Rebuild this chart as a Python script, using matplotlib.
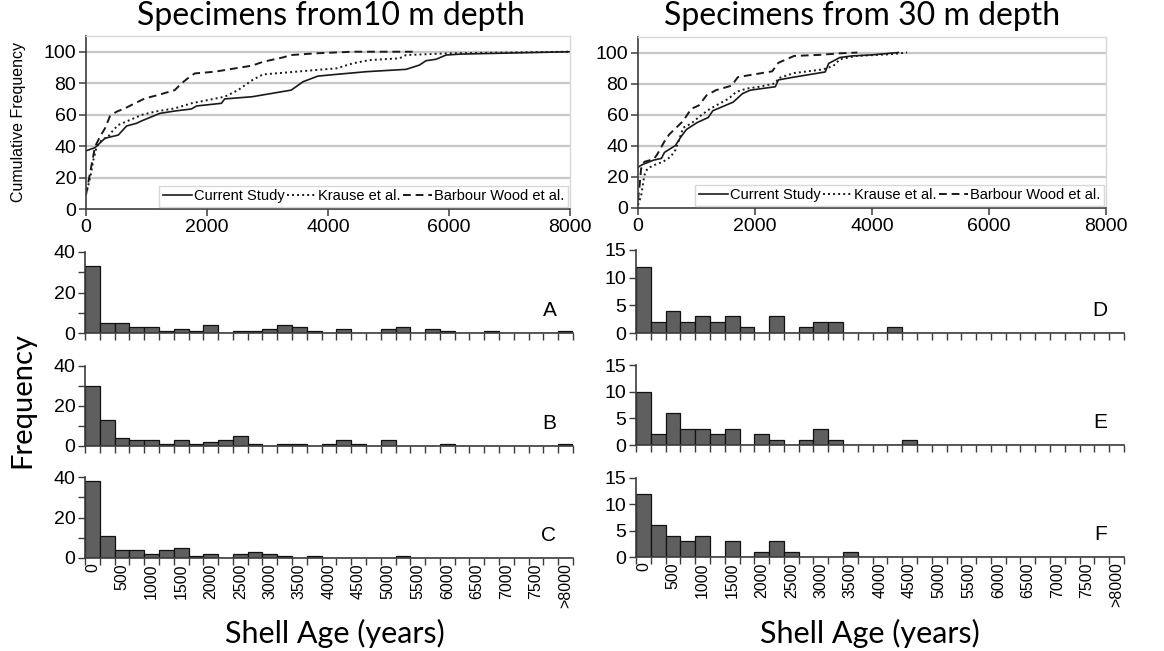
import matplotlib
matplotlib.use("Agg")
import matplotlib.pyplot as plt
from matplotlib.lines import Line2D

# ---------------------------------------------------------------------------
# Data
# ---------------------------------------------------------------------------
# 250-year age classes; the last class holds everything older than 8000 years
age_classes = [str(a) for a in range(0, 8000, 250)] + [">8000"]
axis_labels = [str(a) if a % 500 == 0 else "" for a in range(0, 8000, 250)] + [">8000"]

# shell counts per age class, 10 m depth
freq_A = [33, 5, 5, 3, 3, 1, 2, 1, 4, 0, 1, 1, 2, 4, 3, 1, 0, 2, 0, 0, 2, 3, 0, 2, 1, 0, 0, 1, 0, 0, 0, 0, 1]
freq_B = [30, 13, 4, 3, 3, 1, 3, 1, 2, 3, 5, 1, 0, 1, 1, 0, 1, 3, 1, 0, 3, 0, 0, 0, 1, 0, 0, 0, 0, 0, 0, 0, 1]
freq_C = [38, 11, 4, 4, 2, 4, 5, 1, 2, 0, 2, 3, 2, 1, 0, 1, 0, 0, 0, 0, 0, 1, 0, 0, 0, 0, 0, 0, 0, 0, 0, 0, 0]
# shell counts per age class, 30 m depth
freq_D = [12, 2, 4, 2, 3, 2, 3, 1, 0, 3, 0, 1, 2, 2, 0, 0, 0, 1, 0, 0, 0, 0, 0, 0, 0, 0, 0, 0, 0, 0, 0, 0, 0]
freq_E = [10, 2, 6, 3, 3, 2, 3, 0, 2, 1, 0, 1, 3, 1, 0, 0, 0, 0, 1, 0, 0, 0, 0, 0, 0, 0, 0, 0, 0, 0, 0, 0, 0]
freq_F = [12, 6, 4, 3, 4, 0, 3, 0, 1, 3, 1, 0, 0, 0, 1, 0, 0, 0, 0, 0, 0, 0, 0, 0, 0, 0, 0, 0, 0, 0, 0, 0, 0]

# cumulative frequency (%) against shell age (years), 10 m depth
cur10_age = [0, 149, 314, 533, 671, 836, 918, 1221, 1468, 1743, 1826, 2238, 2293, 2750, 3393, 3586,
             3833, 4136, 4631, 5291, 5511, 5621, 5786, 5951, 6200, 8000]
cur10_pct = [37, 39, 45, 47, 52.8, 54.5, 56, 60.8, 62.3, 63.6, 65.5, 67.2, 70, 71.4, 75.6, 80.9,
             84.5, 85.6, 87.3, 88.8, 91.5, 94.3, 95.2, 97.9, 98.5, 100]
kra10_age = [20, 83, 121, 176, 259, 368, 451, 533, 726, 918, 1138, 1468, 1743, 2018, 2293, 2513,
             2750, 2926, 3256, 3806, 4136, 4411, 4686, 5181, 5291, 6006, 8000]
kra10_pct = [12, 22.7, 31, 39.6, 43.9, 46, 50.2, 53.4, 56.6, 59.8, 61.9, 64, 67.2, 69.3, 71.4, 75.6,
             82, 85.6, 86.6, 88.4, 89.4, 92.6, 94.7, 95.8, 97.9, 99, 100]
bar10_age = [0, 66, 149, 231, 314, 396, 506, 643, 808, 973, 1193, 1468, 1578, 1716, 1798, 2128,
             2750, 2926, 3256, 3393, 3806, 4411, 5400]
bar10_pct = [9, 22.7, 39.6, 46, 51.3, 59, 61.9, 64, 67.2, 70.3, 72.5, 75.6, 79.9, 84.1, 86.2, 87.3,
             91.2, 93.6, 96.4, 97.9, 99, 100, 100]

# cumulative frequency (%) against shell age (years), 30 m depth
cur30_age = [0, 10, 80, 267, 400, 453, 640, 720, 827, 1013, 1200, 1280, 1627, 1787, 1920, 2347,
             2400, 2667, 3200, 3260, 3450, 3650, 4000, 4450]
cur30_pct = [26, 26.5, 28, 30.8, 31.9, 35.8, 40.2, 45, 50.5, 55, 58.2, 62.6, 68.1, 73.6, 75.8, 78,
             82.4, 84.2, 87.5, 93, 96.8, 97.8, 98.5, 100]
kra30_age = [0, 53, 107, 160, 267, 427, 560, 640, 693, 773, 907, 1067, 1227, 1387, 1547, 1680,
             1867, 2080, 2347, 2400, 2667, 3168, 3339, 3453, 3738, 4308, 4600]
kra30_pct = [2, 7.7, 20.9, 25.3, 27.5, 29.7, 33, 37.4, 42.9, 51.6, 54.3, 59.3, 63.7, 67, 70.3, 74.7,
             76.9, 78, 80.2, 83.5, 86.8, 89.2, 91.4, 95.7, 97.8, 98.9, 100]
bar30_age = [0, 27, 53, 107, 267, 320, 373, 453, 533, 640, 773, 907, 1040, 1173, 1333, 1600,
             1707, 2293, 2400, 2667, 3100, 3450, 3750]
bar30_pct = [5, 14.3, 25.3, 29.7, 31.4, 34, 37.4, 42.9, 47.3, 51.2, 56, 63.7, 66, 72.5, 75.8, 78.7,
             84.2, 87.9, 93.4, 97.8, 98.5, 99.5, 100]

series_names = ["Current Study", "Krause et al.", "Barbour Wood et al."]

# ---------------------------------------------------------------------------
# Figure
# ---------------------------------------------------------------------------
W, H = 1164, 651
fig = plt.figure(figsize=(W / 100, H / 100), dpi=100)
fig.patch.set_facecolor("white")

TICK_FONT = "Liberation Sans"
TITLE_FONT = "Lato"
AXC = "#3c3c3c"
GRID = "#c8c8c8"


def px_axes(left, right, top, bottom):
    return fig.add_axes([left / W, 1 - bottom / H, (right - left) / W, (bottom - top) / H])


def style_cumulative(ax):
    ax.set_xlim(0, 8000)
    ax.set_ylim(0, 110)
    ax.set_xticks([0, 2000, 4000, 6000, 8000])
    ax.set_yticks([0, 20, 40, 60, 80, 100])
    for y in [20, 40, 60, 80, 100]:
        ax.axhline(y, color=GRID, lw=1.6, zorder=0)
    for s in ["left", "bottom"]:
        ax.spines[s].set_color(AXC)
        ax.spines[s].set_linewidth(1.2)
    for s in ["top", "right"]:
        ax.spines[s].set_color("#d8d8d8")
        ax.spines[s].set_linewidth(1.0)
    ax.tick_params(axis="both", direction="out", length=5, width=1.1, color=AXC,
                   labelsize=14, pad=2)
    ax.tick_params(top=False, right=False)
    for lab in ax.get_xticklabels() + ax.get_yticklabels():
        lab.set_fontfamily(TICK_FONT)


def draw_cumulative(ax, cur, kra, bar):
    ax.plot(cur[0], cur[1], color="#1a1a1a", lw=1.2, ls="-")
    ax.plot(kra[0], kra[1], color="#1a1a1a", lw=1.4, ls=(0, (1, 1.6)))
    ax.plot(bar[0], bar[1], color="#1a1a1a", lw=1.4, ls=(0, (4, 2.5)))
    handles = [Line2D([], [], color="#1a1a1a", lw=1.2, ls="-"),
               Line2D([], [], color="#1a1a1a", lw=1.4, ls=(0, (1, 1.6))),
               Line2D([], [], color="#1a1a1a", lw=1.4, ls=(0, (4, 2.5)))]
    leg = ax.legend(handles, series_names, loc="lower right", ncol=3, frameon=True,
                    fancybox=False, borderaxespad=0.15, borderpad=0.25, handlelength=2.0,
                    handletextpad=0.1, columnspacing=0.2,
                    prop={"family": TICK_FONT, "size": 10.5})
    leg.get_frame().set_edgecolor("#cfcfcf")
    leg.get_frame().set_linewidth(1.0)


ax_t1 = px_axes(86, 570, 36, 209)
style_cumulative(ax_t1)
draw_cumulative(ax_t1, (cur10_age, cur10_pct), (kra10_age, kra10_pct), (bar10_age, bar10_pct))
ax_t1.set_ylabel("Cumulative Frequency", fontfamily=TICK_FONT, fontsize=11.5, labelpad=13)
fig.text(331 / W, 1 - 16 / H, "Specimens from10 m depth", ha="center", va="center",
         fontfamily=TITLE_FONT, fontsize=23)

ax_t2 = px_axes(638, 1106, 37, 208)
style_cumulative(ax_t2)
draw_cumulative(ax_t2, (cur30_age, cur30_pct), (kra30_age, kra30_pct), (bar30_age, bar30_pct))
fig.text(862 / W, 1 - 16 / H, "Specimens from 30 m depth", ha="center", va="center",
         fontfamily=TITLE_FONT, fontsize=23)


def draw_hist(ax, counts, ymax, yticks, ylabels, letter, show_x):
    n = len(age_classes)
    idx = list(range(n))
    ax.bar(idx, counts, width=1.0, align="edge", color="#5f5f5f", edgecolor="#111111",
           linewidth=0.9, zorder=2)
    ax.set_xlim(0, n)
    ax.set_ylim(0, ymax)
    ax.set_yticks(yticks)
    ax.set_yticklabels(ylabels, fontfamily=TICK_FONT, fontsize=14)
    ax.set_xticks(range(n + 1))
    ax.set_xticklabels([])
    ax.set_xticks([i + 0.5 for i in idx], minor=True)
    if show_x:
        ax.set_xticklabels(axis_labels, minor=True, rotation=90, fontfamily=TICK_FONT,
                           fontsize=11.5, va="top")
    ax.tick_params(axis="x", which="minor", length=0, pad=4)
    ax.tick_params(axis="x", which="major", direction="out", length=5, width=1.0, color=AXC)
    ax.tick_params(axis="y", direction="out", length=5, width=1.0, color=AXC, pad=2)
    for s in ["top", "right"]:
        ax.spines[s].set_visible(False)
    for s in ["left", "bottom"]:
        ax.spines[s].set_color(AXC)
        ax.spines[s].set_linewidth(1.2)
    ax.text(0.966, 0.16, letter, transform=ax.transAxes, ha="right", va="bottom",
            fontfamily=TICK_FONT, fontsize=15)


t10 = [0, 10, 20, 30, 40]
l10 = ["0", "", "20", "", "40"]
t30 = [0, 5, 10, 15]
l30 = ["0", "5", "10", "15"]

draw_hist(px_axes(85, 573, 252, 333), freq_A, 40, t10, l10, "A", False)
draw_hist(px_axes(85, 573, 366, 446), freq_B, 40, t10, l10, "B", False)
draw_hist(px_axes(85, 573, 477, 558), freq_C, 40, t10, l10, "C", True)
draw_hist(px_axes(636, 1124, 250, 333), freq_D, 15, t30, l30, "D", False)
draw_hist(px_axes(636, 1124, 365, 445), freq_E, 15, t30, l30, "E", False)
draw_hist(px_axes(636, 1124, 478, 557), freq_F, 15, t30, l30, "F", True)

fig.text(335 / W, 1 - 633 / H, "Shell Age (years)", ha="center", va="center",
         fontfamily=TITLE_FONT, fontsize=22)
fig.text(870 / W, 1 - 633 / H, "Shell Age (years)", ha="center", va="center",
         fontfamily=TITLE_FONT, fontsize=22)
fig.text(22 / W, 1 - 400 / H, "Frequency", ha="center", va="center", rotation=90,
         fontfamily=TITLE_FONT, fontsize=21)

fig.savefig("out.png", dpi=100, facecolor="white")
